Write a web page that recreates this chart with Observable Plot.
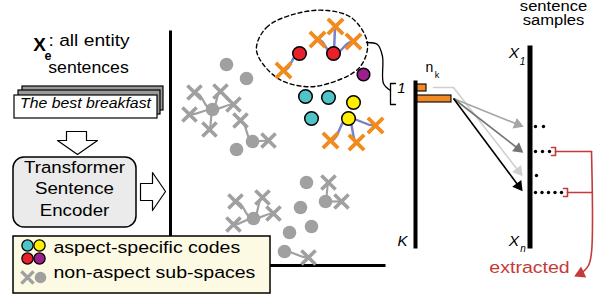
<!DOCTYPE html>
<html><head><meta charset="utf-8">
<script src="https://cdn.jsdelivr.net/npm/d3@7"></script>
<script src="https://cdn.jsdelivr.net/npm/@observablehq/plot@0.6"></script>
<style>body{margin:0;background:#fff}</style>
</head><body><div id="chart"></div>
<script>
// ---------- data (diagram positions) ----------
const redCodes    = [[299,53],[333,53]];
const purpleCodes = [[363,74]];
const cyanCodes   = [[305,96],[328,97],[311,118]];
const yellowCodes = [[353,102],[348,118]];
const orangeSubs  = [[283,70],[317,39],[335,26],[353,41],[330,140],[356,142],[375,125]];
const grayCodes   = [[226,64],[246,78],[212,109],[252,141],[236,149],[306,182],[300,207],[311,226],[289,232],[325,201],[253,218],[284,251]];
const graySubs    = [[194,92],[220,91],[189,114],[233,104],[209,129],[240,120],[268,140],[235,201],[262,197],[273,213],[233,224],[328,182],[341,201],[308,257]];
const blueLinks   = [[299,53,283,70],[333,53,317,39],[333,53,335,26],[333,53,353,41],[348,118,330,140],[348,118,356,142],[348,118,375,125]];
const grayLinks   = [[212,109,194,92],[212,109,220,91],[212,109,189,114],[212,109,233,104],[212,109,209,129],[252,141,240,120],[252,141,268,140],[253,218,235,201],[253,218,262,197],[253,218,273,213],[253,218,233,224],[325,201,328,182],[325,201,341,201],[284,251,308,257]];
const ellipsePts  = [[256,50],[266,27],[296,13],[327,10],[352,18],[367,43],[359,67],[328,83],[304,86],[276,77]];
const connectorPts= [[366,42],[377,44],[382,56],[383,83],[390,90]];
const bracketPts  = [[395,83],[390,83],[390,104],[395,104]];
const cardBacks   = [[22,86,163,110],[18,90,160,114]];
const cardFront   = [[14,95,157,118]];
const downArrow   = [[66,131],[86,131],[86,140],[97,140],[77,154],[57,140],[66,140],[66,131]];
const rightArrow  = [[140,183],[152,183],[152,172],[165,191],[152,210],[152,200],[140,200],[140,183]];
const encoderBox  = [[13,157,136,227]];
const legendBox   = [[13,236,270,293]];
const mainAxes    = [[170,30,170,266],[169,265,385,265]];
const kAxis       = [[415,80,415,248]];
const sampleAxis  = [[529.5,45,529.5,248]];
const nkBars      = [[417,84,426,91],[417,95,451,102]];
const lightLead   = [[433,87],[453,87]];
const sampleArrows= [[453,87,520,173],[453,98,520,125],[453,98,520,150],[453,98,520,188]];
const arrowShades = ["#cfcfcf","#a6a6a6","#737373","#000000"];
const sampleDots  = [[535,126],[543,126],[535,151],[542,151],[549,151],[536,175],[535,192],[541.5,192],[548,192],[554.5,192],[561,192]];
const redBrackets = [[[551,147],[555,147],[555,155],[551,155]],[[563,188],[567,188],[567,196],[563,196]]];
const redLines    = [[[555,151],[591,151]],[[567,192],[591,192]],[[591,151],[591,252],[588,265],[582,272]]];
const redHead     = [[580,273]];
const legendCodes = [[27,245,"#4fc3c6"],[39,245,"#ffee00"],[27,258,"#e8202a"],[39,258,"#9b1f8e"]];

// labels: text, x, y, font size
const boldLabels   = [["X",39,44,19],["e",47.5,55,12.5]];
const startLabels  = [[": all entity",48,45,17],["aspect-specific codes",53,252,17],["non-aspect sub-spaces",53,277,17]];
const middleLabels = [["sentences",88,72,17],["Transformer",74,172,17],["Sentence",74,193,17],["Encoder",74,215,17],
                      ["n",429,67,14],["k",436.5,74.5,9],["sentence",553,10.5,15.5],["samples",553,24.5,15.5]];
const italicLabels = [["The best breakfast",85,107,14],["1",401,88,15],["K",402,241,15],
                      ["X",513.5,52.5,15.5],["1",522,61,10],["X",513.5,240.5,15.5],["n",522.5,248.5,10]];
const redLabels    = [["extracted",529,272,17]];
const widen = {": all entity":1.13, "aspect-specific codes":1.15, "non-aspect sub-spaces":1.15, "sentences":1.04,
               "Transformer":1.1, "Sentence":1.1, "Encoder":1.1, "The best breakfast":1.13, "extracted":1.15,
               "sentence":1.07, "samples":1.07};

// ---------- helpers ----------
const P = d => d[0], Q = d => d[1];
const red = "#c43a3a";
function pointsOf(list){ return list.map((pts,i)=>pts.map(p=>({x:p[0],y:p[1],g:i}))).flat(); }
function heads(arr){
  return arr.map(([x1,y1,x2,y2])=>{
    const dx=x2-x1, dy=y2-y1, L=Math.hypot(dx,dy);
    return {x:x2-dx/L*3, y:y2-dy/L*3, r:Math.atan2(dx,-dy)*180/Math.PI};
  });
}
const R4 = {x1:d=>d[0], y1:d=>d[1], x2:d=>d[2], y2:d=>d[3]};
const T = {x:d=>d[1], y:d=>d[2], text:d=>d[0], fontSize:d=>d[3]};

const marks = [
  Plot.rect(cardBacks, {...R4, fill:"#9a9a9a", stroke:"#000", strokeWidth:1.2}),
  Plot.rect(cardFront, {...R4, fill:"#fff", stroke:"#000", strokeWidth:1.2}),
  Plot.line(downArrow, {x:P, y:Q, fill:"#fff", stroke:"#000", strokeWidth:1.2}),
  Plot.line(rightArrow, {x:P, y:Q, fill:"#fff", stroke:"#000", strokeWidth:1.2}),
  Plot.rect(encoderBox, {...R4, rx:11, fill:"#ebebeb", stroke:"#000", strokeWidth:1.5}),
  Plot.link(mainAxes, {...R4, stroke:"#000", strokeWidth:3}),
  Plot.line(ellipsePts, {x:P, y:Q, curve:"catmull-rom-closed", stroke:"#000", strokeWidth:1.4, strokeDasharray:"4,3"}),
  Plot.line(connectorPts, {x:P, y:Q, curve:"catmull-rom", stroke:"#000", strokeWidth:1.3}),
  Plot.line(bracketPts, {x:P, y:Q, stroke:"#000", strokeWidth:1.3}),
  Plot.link(grayLinks, {...R4, curve:"bump-x", stroke:"#a0a0a0", strokeWidth:2.2}),
  Plot.link(blueLinks, {...R4, curve:"bump-x", stroke:"#7d80c6", strokeWidth:2.5}),
  Plot.dot(graySubs, {x:P, y:Q, symbol:"times", r:6.5, stroke:"#a0a0a0", strokeWidth:3.6}),
  Plot.dot(grayCodes, {x:P, y:Q, r:6.8, fill:"#a0a0a0"}),
  Plot.dot(orangeSubs, {x:P, y:Q, symbol:"times", r:7, stroke:"#f28b1e", strokeWidth:3.8}),
  Plot.dot(redCodes, {x:P, y:Q, r:6.8, fill:"#e8202a", stroke:"#000", strokeWidth:1.5}),
  Plot.dot(purpleCodes, {x:P, y:Q, r:6.3, fill:"#9b1f8e", stroke:"#000", strokeWidth:1.5}),
  Plot.dot(cyanCodes, {x:P, y:Q, r:6.8, fill:"#4fc3c6", stroke:"#000", strokeWidth:1.5}),
  Plot.dot(yellowCodes, {x:P, y:Q, r:6.8, fill:"#ffee00", stroke:"#000", strokeWidth:1.5}),
  Plot.rect(legendBox, {...R4, fill:"#fdfae3", stroke:"#000", strokeWidth:1.5}),
  Plot.dot(legendCodes, {x:P, y:Q, r:5.6, fill:d=>d[2], stroke:"#000", strokeWidth:1.3}),
  Plot.dot([[27,277]], {x:P, y:Q, symbol:"times", r:5.6, stroke:"#a0a0a0", strokeWidth:3.4}),
  Plot.dot([[40,277]], {x:P, y:Q, r:5.8, fill:"#a0a0a0"}),
  Plot.link(kAxis, {...R4, stroke:"#000", strokeWidth:4}),
  Plot.rect(nkBars, {...R4, fill:"#f08a24", stroke:"#000", strokeWidth:1.1}),
  Plot.line(lightLead, {x:P, y:Q, stroke:arrowShades[0], strokeWidth:1.6}),
  ...sampleArrows.map((a,i)=>Plot.link([a], {...R4, stroke:arrowShades[i], strokeWidth:1.6})),
  ...sampleArrows.map((a,i)=>Plot.dot(heads([a]), {x:"x", y:"y", rotate:"r", symbol:"triangle", r:4.2, fill:arrowShades[i]})),
  Plot.link(sampleAxis, {...R4, stroke:"#000", strokeWidth:5}),
  Plot.dot(sampleDots, {x:P, y:Q, r:1.7, fill:"#000"}),
  Plot.line(pointsOf(redBrackets), {x:"x", y:"y", z:"g", stroke:red, strokeWidth:1.6}),
  Plot.line(pointsOf(redLines), {x:"x", y:"y", z:"g", curve:"catmull-rom", stroke:red, strokeWidth:1.6}),
  Plot.dot(redHead, {x:P, y:Q, symbol:"triangle", rotate:-115, r:4.5, fill:red}),
  Plot.text(boldLabels,   {...T, fontWeight:"bold", fill:"#000"}),
  Plot.text(startLabels,  {...T, textAnchor:"start", fill:"#000"}),
  Plot.text(middleLabels, {...T, fill:"#000"}),
  Plot.text(italicLabels, {...T, fontStyle:"italic", fill:"#000"}),
  Plot.text(redLabels,    {...T, fill:red})
];

const chart = Plot.plot({
  width:601, height:302, margin:0,
  x:{type:"linear", domain:[0,601], range:[0,601], axis:null},
  y:{type:"linear", domain:[0,302], range:[0,302], axis:null},
  style:{background:"#fff", fontFamily:"'Liberation Sans', Arial, sans-serif", overflow:"visible"},
  marks
});
chart.querySelectorAll("text").forEach(t=>{
  const s = widen[t.textContent];
  if (!s) return;
  const tr = t.getAttribute("transform")||"";
  const x = +t.getAttribute("x")||0, y = +t.getAttribute("y")||0;
  t.removeAttribute("x"); t.removeAttribute("y");
  t.setAttribute("transform", `${tr} translate(${x},${y}) scale(${s},1)`);
});
document.getElementById("chart").appendChild(chart);
</script>
</body></html>
